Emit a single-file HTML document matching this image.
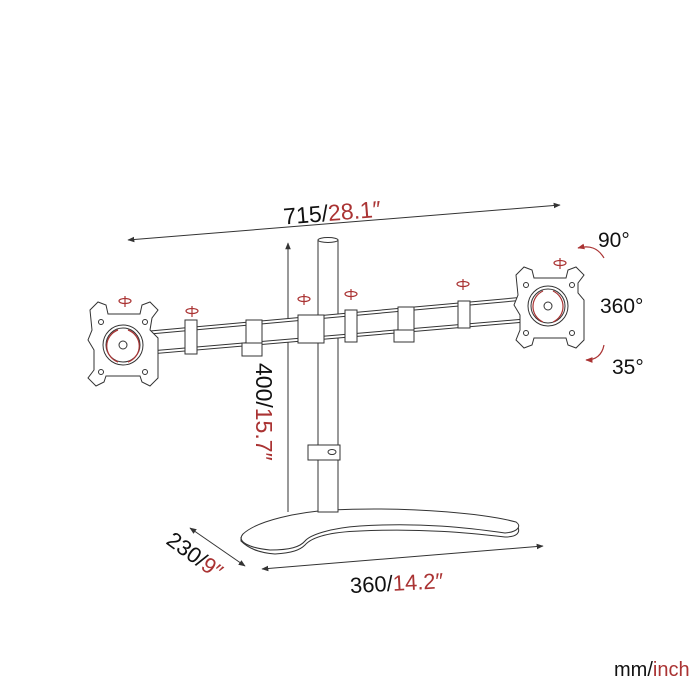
<!DOCTYPE html>
<html><head><style>
body{margin:0;background:#fff}
svg{display:block}
text{font-family:"Liberation Sans",sans-serif}
</style></head><body>
<svg width="700" height="700" viewBox="0 0 700 700" xmlns="http://www.w3.org/2000/svg">
<defs>
<marker id="a" viewBox="0 0 10 10" refX="9" refY="5" markerWidth="7" markerHeight="7" orient="auto-start-reverse"><path d="M0,1 L10,5 L0,9 z" fill="#333"/></marker>
<marker id="r" viewBox="0 0 10 10" refX="9" refY="5" markerWidth="6" markerHeight="6" orient="auto"><path d="M0,1 L10,5 L0,9 z" fill="#a33"/></marker>
</defs>
<g stroke="#333" fill="none" stroke-width="1">
<line x1="128" y1="240" x2="560" y2="205" marker-start="url(#a)" marker-end="url(#a)"/>
<line x1="288" y1="512" x2="288" y2="243" marker-end="url(#a)"/>
<line x1="262" y1="569" x2="543" y2="546" marker-start="url(#a)" marker-end="url(#a)"/>
<line x1="190" y1="528" x2="245" y2="566" marker-start="url(#a)" marker-end="url(#a)"/>
<!-- base slab -->
<path d="M241,537 L241,541 C250,550 262,553 275,554 C292,553 300,550 305,545 C312,537 330,532 360,531 C420,528 470,533 505,537 C518,537 520,532 518,527 L516,522" fill="#fff"/>
<path d="M243,534 C258,520 300,512 330,510 C420,506 490,515 516,522 C522,526 518,532 505,533 C470,528 420,522 360,526 C330,528 310,535 305,541 C300,547 290,550 270,550 C250,548 236,542 243,534 Z" fill="#fff"/>
<rect x="318" y="240" width="20" height="272" fill="#fff"/>
<ellipse cx="328" cy="240" rx="10" ry="2.5" fill="#fff"/>
<path d="M308,445 L340,445 L340,460 L308,460 Z" fill="#fff"/>
<ellipse cx="332" cy="452" rx="4" ry="2.5"/>
<path d="M150,331 L525,297 L525,322 L150,354 Z" fill="#fff"/>
<line x1="150" y1="334" x2="525" y2="300"/>
<line x1="150" y1="351" x2="525" y2="319"/>
<g fill="#fff">
<rect x="185" y="320" width="12" height="34"/>
<rect x="246" y="320" width="16" height="28"/><path d="M242,343 L262,343 L262,356 L242,356 Z"/>
<rect x="298" y="315" width="26" height="28"/>
<rect x="345" y="310" width="12" height="32"/>
<rect x="398" y="307" width="16" height="28"/><path d="M394,330 L414,330 L414,342 L394,342 Z"/>
<rect x="458" y="301" width="12" height="27"/>
</g>
<g fill="#fff">
<path d="M90,310 L98,302 L106,305 L108,314 L140,314 L142,305 L150,302 L158,310 L152,318 L150,330 L158,338 L158,378 L150,386 L142,382 L140,376 L106,376 L104,382 L96,386 L88,378 L94,370 L94,350 L88,340 L92,330 Z"/>
<circle cx="123" cy="345" r="20"/><circle cx="123" cy="345" r="17"/><circle cx="123" cy="345" r="4"/>
<circle cx="101" cy="322" r="2.5"/><circle cx="145" cy="322" r="2.5"/><circle cx="101" cy="372" r="2.5"/><circle cx="145" cy="372" r="2.5"/>
<path d="M516,275 L524,267 L532,270 L534,278 L566,278 L568,270 L576,267 L584,275 L578,283 L578,293 L584,300 L584,340 L576,348 L568,345 L566,338 L534,338 L532,345 L524,348 L516,340 L520,330 L520,315 L514,305 L518,295 Z"/>
<circle cx="548" cy="306" r="20"/><circle cx="548" cy="306" r="17"/><circle cx="548" cy="306" r="4"/>
<circle cx="526" cy="285" r="2.5"/><circle cx="572" cy="285" r="2.5"/><circle cx="526" cy="333" r="2.5"/><circle cx="572" cy="333" r="2.5"/>
</g>
</g>
<g stroke="#a33" fill="none" stroke-width="1.2">
<path d="M118,330 A17,17 0 0 0 118,362"/><path d="M128,330 A17,17 0 0 1 128,362"/>
<path d="M543,291 A17,17 0 0 0 543,322"/><path d="M553,291 A17,17 0 0 1 553,322"/>
<path d="M604,258 C598,248 590,245 578,248" marker-end="url(#r)"/>
<path d="M604,345 C602,355 596,360 586,360" marker-end="url(#r)"/>
<ellipse cx="125" cy="301" rx="6" ry="2.5"/><line x1="125" y1="296" x2="125" y2="307"/>
<ellipse cx="192" cy="311" rx="6" ry="2.5"/><line x1="192" y1="306" x2="192" y2="317"/>
<ellipse cx="304" cy="299" rx="6" ry="2.5"/><line x1="304" y1="294" x2="304" y2="305"/>
<ellipse cx="351" cy="294" rx="6" ry="2.5"/><line x1="351" y1="289" x2="351" y2="300"/>
<ellipse cx="463" cy="284" rx="6" ry="2.5"/><line x1="463" y1="279" x2="463" y2="290"/>
<ellipse cx="560" cy="263" rx="6" ry="2.5"/><line x1="560" y1="258" x2="560" y2="269"/>
</g>
<g font-size="22" fill="#111">
<text x="283" y="220" font-size="23" transform="rotate(-4.6 340 210)">715/<tspan fill="#a33">28.1″</tspan></text>
<text x="0" y="0" font-size="23" transform="translate(256,363) rotate(90)">400/<tspan fill="#a33">15.7″</tspan></text>
<text x="350" y="591" transform="rotate(-3 390 585)">360/<tspan fill="#a33">14.2″</tspan></text>
<text x="0" y="0" transform="translate(165,543) rotate(36)">230/<tspan fill="#a33">9″</tspan></text>
<text x="598" y="247" font-size="21">90°</text>
<text x="600" y="313" font-size="21">360°</text>
<text x="612" y="374" font-size="21">35°</text>
<text x="614" y="676" font-size="20">mm/<tspan fill="#a33">inch</tspan></text>
</g>
</svg>
</body></html>
